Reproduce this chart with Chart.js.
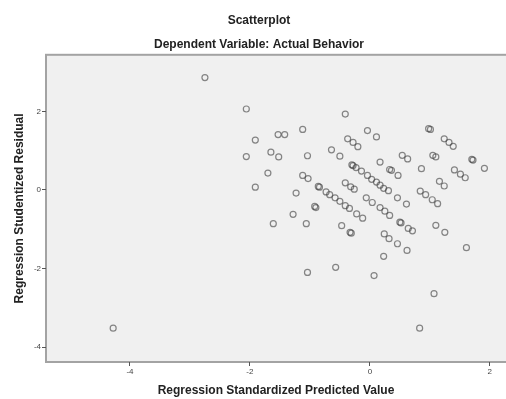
<!DOCTYPE html>
<html>
<head>
<meta charset="utf-8">
<script src="https://cdn.jsdelivr.net/npm/chart.js@4/dist/chart.umd.min.js"></script>
<style>
  html, body { margin: 0; padding: 0; background: #ffffff; }
  #wrap { width: 506px; height: 399px; }
</style>
</head>
<body>
<div id="wrap"><canvas id="scatter"></canvas></div>
<script>
// values
const predicted = [
  -4.28, -2.75, -2.06, -1.91, -1.53, -1.42, -2.06, -1.65, -1.52, -1.70,
  -1.91, -1.61, -1.12, -0.41, -1.04, -0.04, 0.11, -0.37, -0.28, -0.20,
  -0.64, -0.50, 0.98, 1.01, 1.24, 1.32, 1.39, 1.70, 1.72, 1.91,
  0.54, 0.63, 0.17, 0.86, 1.05, 1.10, 1.41, 1.51, 1.59, 1.16,
  1.24, 0.84, 0.93, 1.04, 1.13, 0.33, 0.36, 0.47, -0.30, -0.28,
  -0.23, -0.14, -0.04, 0.03, 0.11, 0.17, 0.23, 0.31, -1.12, -1.03,
  -1.23, -0.86, -0.84, -0.73, -0.67, -0.58, -0.50, -0.41, -0.34, -0.41,
  -0.32, -0.26, -0.06, 0.04, 0.46, 0.61, -0.92, -0.90, 0.17, -1.28,
  -1.06, -0.22, -0.12, -0.47, -0.33, -0.31, 0.25, 0.33, 0.50, 0.52,
  0.64, 0.71, 0.24, 0.32, 0.46, 0.62, 0.23, -1.04, -0.57, 0.07,
  1.10, 1.25, 1.61, 1.07, 0.83
];
const residual = [
  -3.52, 2.86, 2.06, 1.27, 1.41, 1.41, 0.85, 0.96, 0.84, 0.43,
  0.07, -0.86, 1.54, 1.93, 0.87, 1.51, 1.35, 1.30, 1.21, 1.10,
  1.02, 0.86, 1.56, 1.54, 1.30, 1.21, 1.11, 0.78, 0.76, 0.55,
  0.88, 0.79, 0.71, 0.54, 0.88, 0.84, 0.51, 0.40, 0.31, 0.22,
  0.10, -0.03, -0.12, -0.25, -0.35, 0.52, 0.50, 0.37, 0.64, 0.62,
  0.57, 0.48, 0.37, 0.27, 0.20, 0.12, 0.04, -0.02, 0.37, 0.29,
  -0.08, 0.09, 0.07, -0.05, -0.12, -0.20, -0.29, -0.40, -0.47, 0.18,
  0.08, 0.02, -0.20, -0.32, -0.20, -0.36, -0.42, -0.45, -0.45, -0.62,
  -0.86, -0.61, -0.72, -0.91, -1.08, -1.10, -0.54, -0.65, -0.82, -0.84,
  -0.98, -1.04, -1.12, -1.24, -1.37, -1.54, -1.69, -2.10, -1.97, -2.18,
  -0.90, -1.08, -1.47, -2.64, -3.52
];
const xTicks = [-4, -2, 0, 2];
const yTicks = [-4, -2, 0, 2];

const points = predicted.map((x, i) => ({ x: x, y: residual[i] }));

// grey plot frame like the SPSS output
const plotFrame = {
  id: "plotFrame",
  beforeDraw(chart) {
    const a = chart.chartArea;
    const ctx = chart.ctx;
    ctx.save();
    ctx.fillStyle = "#f0f0f0";
    ctx.fillRect(a.left, a.top, a.right - a.left + 10, a.bottom - a.top);
    ctx.strokeStyle = "#a3a3a3";
    ctx.lineWidth = 2;
    ctx.strokeRect(a.left, a.top, a.right - a.left + 10, a.bottom - a.top);
    ctx.restore();
  }
};

const tickFont = { family: "Liberation Sans", size: 8 };
const titleFont = { family: "Liberation Sans", size: 12, weight: "bold" };

new Chart(document.getElementById("scatter"), {
  type: "scatter",
  data: {
    datasets: [{
      label: "Residuals",
      data: points,
      pointRadius: 3,
      pointHoverRadius: 3,
      pointBorderWidth: 1.2,
      pointBorderColor: "rgba(60,60,60,0.6)",
      pointBackgroundColor: "rgba(0,0,0,0)"
    }]
  },
  options: {
    responsive: true,
    maintainAspectRatio: false,
    animation: false,
    layout: { autoPadding: false, padding: { left: 12, right: 0, top: 0, bottom: 0 } },
    plugins: {
      legend: { display: false },
      tooltip: { enabled: false },
      title: {
        display: true,
        text: "Scatterplot",
        color: "#222",
        font: titleFont,
        padding: { top: 13, bottom: 10 }
      },
      subtitle: {
        display: true,
        text: "Dependent Variable: Actual Behavior",
        color: "#222",
        font: titleFont,
        padding: { top: 0, bottom: 3 }
      }
    },
    scales: {
      x: {
        type: "linear",
        min: -5.4,
        max: 2.27,
        afterBuildTicks: (s) => { s.ticks = xTicks.map(v => ({ value: v })); },
        afterFit: (s) => { s.height = 37; s.paddingLeft = 0; s.paddingRight = 0; },
        grid: { display: true, drawOnChartArea: false, drawTicks: true, tickLength: 4, color: "#555" },
        border: { display: false },
        ticks: { font: tickFont, color: "#444", padding: 1 },
        title: { display: true, text: "Regression Standardized Predicted Value", color: "#222", font: titleFont, padding: { top: 2, bottom: 1 } }
      },
      y: {
        type: "linear",
        min: -4.38,
        max: 3.44,
        afterBuildTicks: (s) => { s.ticks = yTicks.map(v => ({ value: v })); },
        afterFit: (s) => { s.width = 34; },
        grid: { display: true, drawOnChartArea: false, drawTicks: true, tickLength: 4, color: "#555" },
        border: { display: false },
        ticks: { font: tickFont, color: "#444", padding: 1 },
        title: { display: true, text: "Regression Studentized Residual", color: "#222", font: titleFont, padding: { top: 0, bottom: 2 } }
      }
    }
  },
  plugins: [plotFrame]
});
</script>
</body>
</html>
